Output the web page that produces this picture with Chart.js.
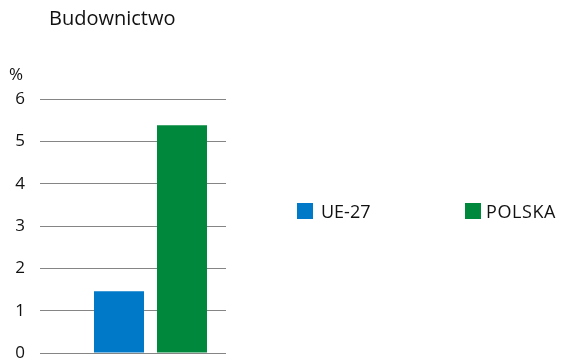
<!DOCTYPE html>
<html><head><meta charset="utf-8">
<script src="https://cdn.jsdelivr.net/npm/chart.js@4"></script>
<style>
html,body{margin:0;padding:0;background:#fff;}
#wrap{position:relative;width:562px;height:360px;overflow:hidden;}
#legend{position:absolute;left:297px;top:202px;display:flex;}
.item{display:flex;align-items:center;width:168px;font-family:'Open Sans',sans-serif;font-size:18px;color:#111;line-height:18px;}
.box{width:16px;height:16px;margin-right:8px;flex:none;}
.item + .item .box{margin-right:5px;}
.item + .item span + span{letter-spacing:0.6px;}
</style></head>
<body><div id="wrap"><canvas id="c" width="562" height="360"></canvas><div id="legend"></div></div>
<script>
const chartTitle = 'Budownictwo';
const unitLabel = '%';
const categories = ['Budownictwo'];
const seriesNames = ['UE-27', 'POLSKA'];
const ue27Values = [1.46];
const polskaValues = [5.38];
const yTicks = [0, 1, 2, 3, 4, 5, 6];
const seriesColors = ['#0079c8', '#00893c'];

const textPlugin = {
  id: 'texts',
  afterDraw(chart) {
    const ctx = chart.ctx;
    ctx.save();
    ctx.fillStyle = '#111';
    ctx.textBaseline = 'alphabetic';
    ctx.textAlign = 'left';
    ctx.font = '20px "Open Sans"';
    ctx.fillText(chartTitle, 49, 25);
    ctx.font = '17px "Open Sans"';
    ctx.fillText(unitLabel, 9, 80);
    ctx.restore();
  }
};

const chart = new Chart(document.getElementById('c'), {
  type: 'bar',
  data: {
    labels: categories,
    datasets: [
      { label: seriesNames[0], data: ue27Values, backgroundColor: seriesColors[0], borderWidth: 0 },
      { label: seriesNames[1], data: polskaValues, backgroundColor: seriesColors[1], borderWidth: 0 }
    ]
  },
  options: {
    responsive: false,
    animation: false,
    devicePixelRatio: 1,
    categoryPercentage: 126 / 151,
    barPercentage: 50 / 63,
    layout: { padding: { top: 99, right: 336, bottom: 7, left: 0 } },
    plugins: { legend: { display: false }, title: { display: false }, tooltip: { enabled: false } },
    scales: {
      x: { display: false },
      y: {
        min: 0, max: 6,
        afterBuildTicks: s => { s.ticks = yTicks.map(v => ({ value: v })); },
        afterFit: s => { s.width = 75; s.paddingTop = 0; s.paddingBottom = 0; },
        ticks: { padding: 15, color: '#111', font: { family: 'Open Sans', size: 17 } },
        grid: { color: '#858585', lineWidth: 1, tickLength: 35, drawTicks: true, tickColor: '#858585' },
        border: { display: false }
      }
    }
  },
  plugins: [textPlugin]
});

const legendEl = document.getElementById('legend');
chart.data.datasets.forEach(ds => {
  const item = document.createElement('div');
  item.className = 'item';
  const box = document.createElement('span');
  box.className = 'box';
  box.style.background = ds.backgroundColor;
  const txt = document.createElement('span');
  txt.textContent = ds.label;
  item.appendChild(box);
  item.appendChild(txt);
  legendEl.appendChild(item);
});
</script>
</body></html>
